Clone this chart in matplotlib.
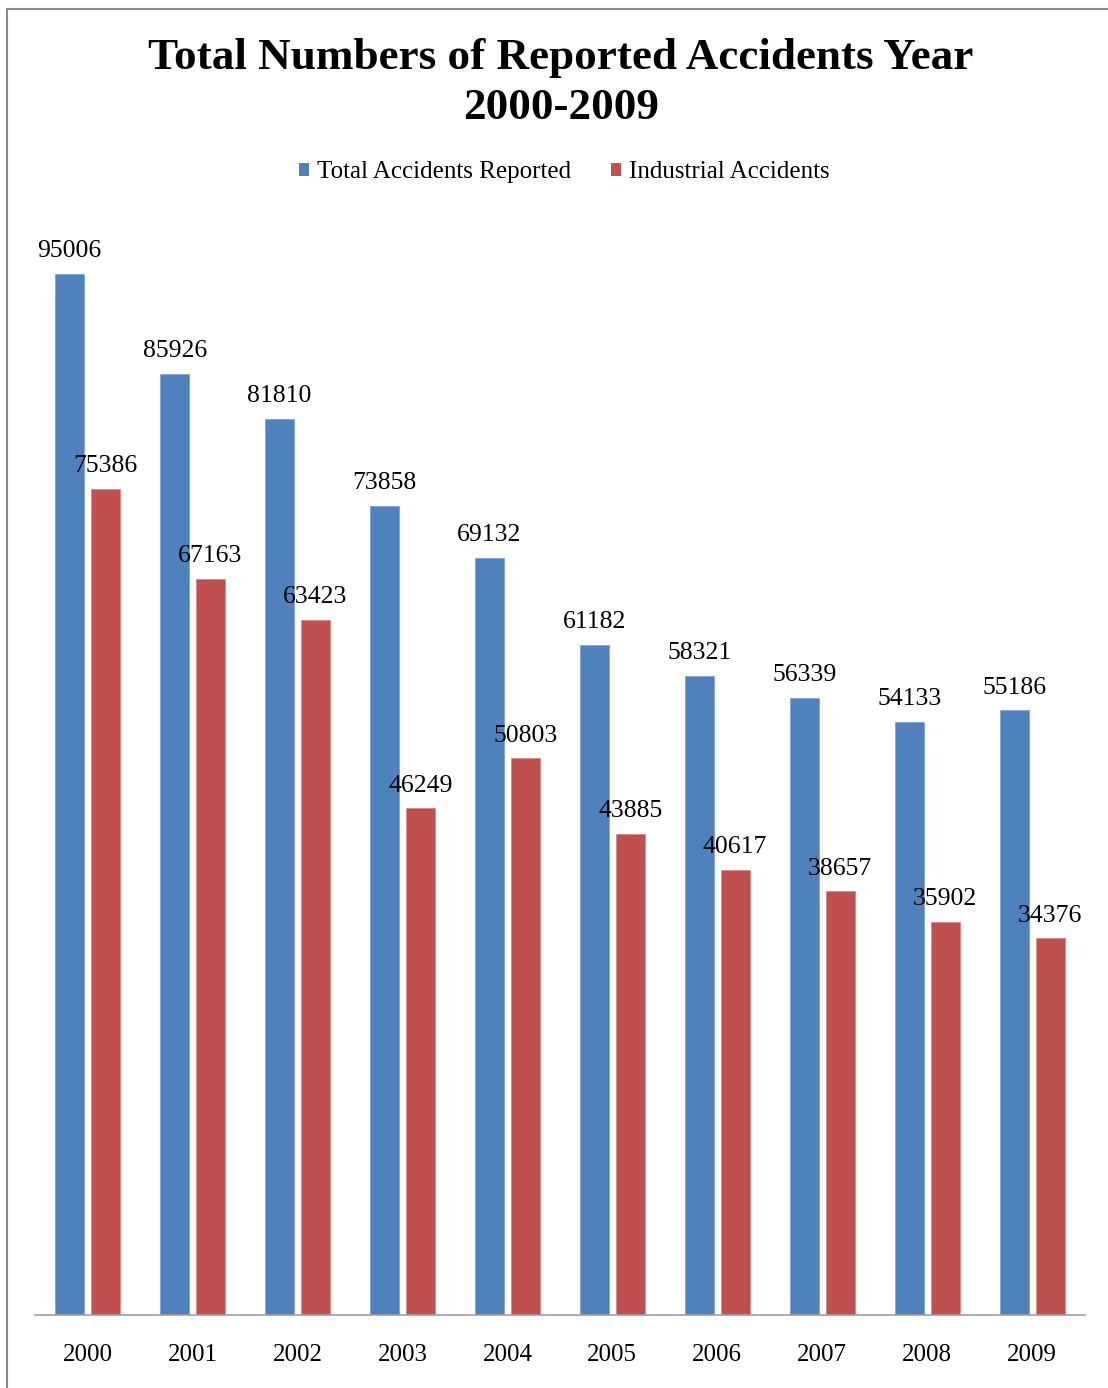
import numpy as np
import matplotlib.pyplot as plt
from matplotlib.patches import Patch
from matplotlib.lines import Line2D

# Data
years = ['2000', '2001', '2002', '2003', '2004', '2005', '2006', '2007', '2008', '2009']
total_reported = [95006, 85926, 81810, 73858, 69132, 61182, 58321, 56339, 54133, 55186]
industrial = [75386, 67163, 63423, 46249, 50803, 43885, 40617, 38657, 35902, 34376]

BLUE = '#4F81BD'
RED = '#C0504D'
SERIF = ['Liberation Serif', 'DejaVu Serif']

plt.rcParams['font.family'] = SERIF

fig = plt.figure(figsize=(11.08, 13.88), dpi=100)
ax = fig.add_axes([0.0316, 0.0526, 0.9474, 0.7894])

x = np.arange(len(years))
bw = 0.275
off = 0.17
b1 = ax.bar(x - off, total_reported, bw, color=BLUE, edgecolor='#7FA3D0', linewidth=0.6)
b2 = ax.bar(x + off, industrial, bw, color=RED, edgecolor='#D88A88', linewidth=0.6)

# value labels above each bar
for bars in (b1, b2):
    for rect in bars:
        h = rect.get_height()
        ax.annotate(f'{h:.0f}', (rect.get_x() + rect.get_width() / 2, h),
                    xytext=(0, 12), textcoords='offset points',
                    ha='center', va='baseline', fontsize=18.5, annotation_clip=False)

ax.set_xlim(-0.5, len(years) - 0.5)
ax.set_ylim(0, 100000)
ax.set_xticks(x)
ax.set_xticklabels(years, fontsize=18)
ax.tick_params(axis='x', length=0, pad=21)
ax.set_yticks([])
for s in ['top', 'right', 'left']:
    ax.spines[s].set_visible(False)
ax.spines['bottom'].set_color('#A0A0A0')
ax.spines['bottom'].set_linewidth(1.2)

fig.text(0.506, 0.940, 'Total Numbers of Reported Accidents Year\n2000-2009',
         ha='center', va='center', fontsize=32.5, fontweight='bold',
         linespacing=1.33)

handles = [Patch(facecolor=BLUE), Patch(facecolor=RED)]
fig.legend(handles, ['Total Accidents Reported', 'Industrial Accidents'],
           loc='center', bbox_to_anchor=(0.509, 0.876), ncol=2, frameon=False,
           fontsize=18, handlelength=0.42, handleheight=0.42,
           handletextpad=0.3, columnspacing=1.6)

# outer frame (cropped: only top and left visible)
fig.add_artist(Line2D([7 / 1108, 7 / 1108], [0, 1 - 9 / 1388], transform=fig.transFigure,
                      color='#8C8C8C', linewidth=1.5))
fig.add_artist(Line2D([7 / 1108, 1], [1 - 9 / 1388, 1 - 9 / 1388], transform=fig.transFigure,
                      color='#8C8C8C', linewidth=1.5))

fig.savefig('out.png', dpi=100)
